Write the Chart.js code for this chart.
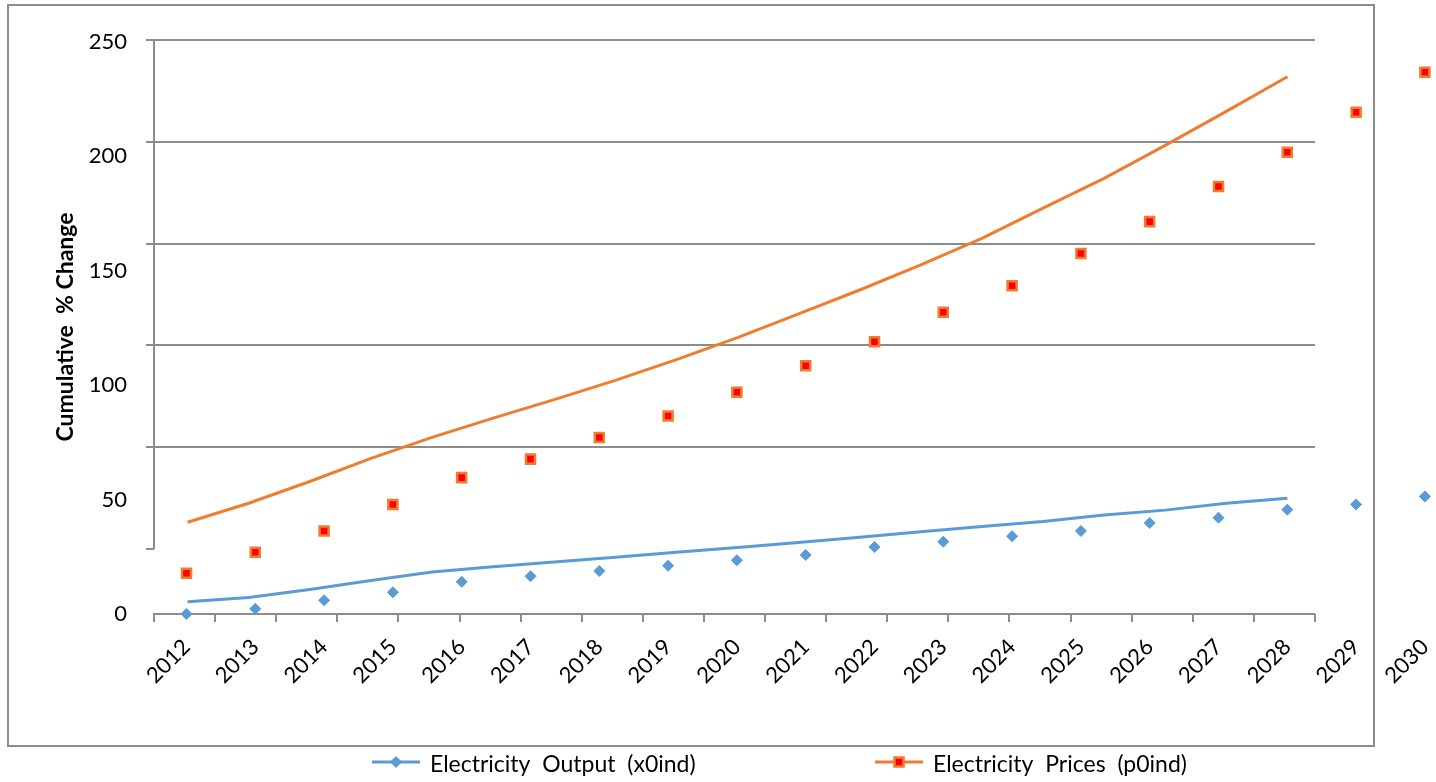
<!DOCTYPE html>
<html>
<head>
<meta charset="utf-8">
<title>Electricity output and prices</title>
<script src="https://cdn.jsdelivr.net/npm/chart.js@4.4.1/dist/chart.umd.min.js"></script>
<style>
  html, body { margin: 0; padding: 0; background: #fff; overflow: hidden; }
  #wrap { position: relative; width: 1436px; height: 782px; }
</style>
</head>
<body>
<div id="wrap"><canvas id="chart"></canvas></div>
<script>
const years = ['2012', '2013', '2014', '2015', '2016', '2017', '2018', '2019', '2020', '2021',
               '2022', '2023', '2024', '2025', '2026', '2027', '2028', '2029', '2030'];
const yLabels = [0, 50, 100, 150, 200, 250];

// yearly markers
const outputValues = [0.0, 2.3, 6.0, 9.5, 14.1, 16.5, 18.8, 21.1, 23.5, 25.8,
                      29.3, 31.6, 34.0, 36.3, 39.8, 42.1, 45.6, 47.9, 51.4];
const pricesValues = [17.8, 27.0, 36.3, 47.9, 59.6, 67.7, 77.1, 86.5, 96.9, 108.5,
                      119.0, 131.9, 143.5, 157.6, 171.5, 186.8, 201.8, 219.3, 236.8];

// trend lines
const outputTrend = [5.4, 7.2, 10.7, 14.6, 18.4, 20.6, 22.7, 24.8, 27.0, 29.1,
                     31.3, 33.5, 35.9, 38.2, 40.4, 43.3, 45.4, 48.4, 50.6];
const pricesTrend = [40.1, 48.4, 57.9, 68.0, 77.2, 85.6, 93.7, 102.1, 111.2, 120.8,
                     131.2, 141.6, 152.6, 164.2, 177.4, 190.4, 204.8, 219.7, 234.8];

const legendLabels = ['Electricity  Output  (x0ind)', 'Electricity  Prices  (p0ind)'];

const BLUE = '#5B9BD5';
const ORANGE = '#ED7D31';
const RED = '#FF0000';
const GRID = '#8c8c8c';
const FONT = 'Lato, "Open Sans", sans-serif';

// pixel width of one year slot for the lines and for the markers
const LINE_SLOT = 61.1;
const MARK_SLOT = 68.8;

const xy = arr => arr.map((v, i) => ({ x: i, y: v }));

// fixed axis box sizes, no extra label overflow padding
const fitBox = size => axis => {
  if (axis.isHorizontal()) axis.height = size; else axis.width = size;
  axis.paddingLeft = 0; axis.paddingRight = 0; axis.paddingTop = 0; axis.paddingBottom = 0;
};

const framePlugin = {
  id: 'frame',
  // once the plot width is final, give both year axes their fixed slot width
  afterLayout(chart) {
    const { xl, xm } = chart.scales;
    [[xl, LINE_SLOT], [xm, MARK_SLOT]].forEach(([scale, slot]) => {
      scale.max = scale.min + scale.width / slot;
      scale.configure();
    });
  },
  beforeDraw(chart) {
    const { ctx } = chart;
    ctx.save();
    ctx.strokeStyle = GRID;
    ctx.lineWidth = 2;
    ctx.strokeRect(8, 5, 1366, 741);
    ctx.restore();
  },
  beforeDatasetsDraw(chart) {
    const { ctx, chartArea, scales: { xl, yg } } = chart;
    const right = Math.round(xl.getPixelForValue(xl.ticks[xl.ticks.length - 1].value));
    const left = Math.round(chartArea.left);
    ctx.save();
    ctx.strokeStyle = GRID;
    ctx.lineWidth = 2;
    ctx.beginPath();
    yg.ticks.forEach(t => {
      if (t.value <= 0) return;
      const y = Math.round(yg.getPixelForValue(t.value));
      ctx.moveTo(left, y);
      ctx.lineTo(right, y);
    });
    // value axis stops at the lowest tick mark
    ctx.moveTo(left, Math.round(yg.getPixelForValue(yg.max)));
    ctx.lineTo(left, Math.round(yg.getPixelForValue(0)));
    // category axis
    const bottom = Math.round(chartArea.bottom);
    ctx.moveTo(left - 1, bottom);
    ctx.lineTo(right, bottom);
    ctx.stroke();
    ctx.restore();
  },
  afterDraw(chart) {
    const { ctx } = chart;
    const sets = chart.data.datasets;
    const slots = [372, 875];
    const y = 762;
    ctx.save();
    [0, 1].forEach(i => {
      const marker = sets[i];
      const line = sets[i + 2];
      const x0 = slots[i];
      ctx.strokeStyle = line.borderColor;
      ctx.lineWidth = 3;
      ctx.beginPath();
      ctx.moveTo(x0, y);
      ctx.lineTo(x0 + 48, y);
      ctx.stroke();
      ctx.fillStyle = marker.pointBackgroundColor;
      ctx.strokeStyle = marker.pointBorderColor;
      ctx.lineWidth = marker.pointBorderWidth;
      Chart.helpers.drawPoint(ctx, {
        pointStyle: marker.pointStyle,
        radius: marker.pointRadius,
        borderWidth: marker.pointBorderWidth,
        rotation: 0
      }, x0 + 24, y);
      ctx.fillStyle = '#000';
      ctx.font = '23px ' + FONT;
      ctx.textBaseline = 'middle';
      ctx.textAlign = 'left';
      ctx.fillText(marker.label, x0 + 58, y + 3);
    });
    ctx.restore();
  }
};

new Chart(document.getElementById('chart'), {
  type: 'line',
  data: {
    datasets: [
      {
        label: legendLabels[0],
        data: xy(outputValues),
        xAxisID: 'xm', yAxisID: 'y',
        showLine: false,
        pointStyle: 'rectRot',
        pointRadius: 5.5,
        pointBorderWidth: 1,
        pointBackgroundColor: BLUE,
        pointBorderColor: BLUE,
        clip: false
      },
      {
        label: legendLabels[1],
        data: xy(pricesValues),
        xAxisID: 'xm', yAxisID: 'y',
        showLine: false,
        pointStyle: 'rect',
        pointRadius: 6.4,
        pointBorderWidth: 2.5,
        pointBackgroundColor: RED,
        pointBorderColor: ORANGE,
        clip: false
      },
      {
        label: 'output trend',
        data: xy(outputTrend),
        xAxisID: 'xl', yAxisID: 'y',
        borderColor: BLUE,
        borderWidth: 3,
        pointRadius: 0,
        tension: 0
      },
      {
        label: 'prices trend',
        data: xy(pricesTrend),
        xAxisID: 'xl', yAxisID: 'y',
        borderColor: ORANGE,
        borderWidth: 3,
        pointRadius: 0,
        tension: 0
      }
    ]
  },
  options: {
    responsive: true,
    maintainAspectRatio: false,
    animation: false,
    events: [],
    layout: { padding: { left: 0, right: 0, top: 40, bottom: 58 } },
    plugins: {
      legend: { display: false },
      tooltip: { enabled: false }
    },
    scales: {
      // tick marks of the trend lines' year slots
      xl: {
        type: 'linear',
        position: 'bottom',
        weight: 0,
        min: -0.55,
        max: 20.4,
        afterBuildTicks: axis => { axis.ticks = years.concat(['']).map((_, i) => ({ value: i - 0.55 })); },
        afterFit: fitBox(10),
        ticks: { display: false },
        border: { display: false },
        grid: { drawOnChartArea: false, drawTicks: true, tickLength: 8, color: GRID, lineWidth: 2 }
      },
      // year labels under the markers
      xm: {
        type: 'linear',
        position: 'bottom',
        weight: 1,
        min: -0.4724,
        max: 18.1,
        afterBuildTicks: axis => { axis.ticks = years.map((_, i) => ({ value: i })); },
        afterFit: fitBox(100),
        border: { display: false },
        grid: { display: false, drawTicks: false },
        ticks: {
          autoSkip: false,
          minRotation: 45,
          maxRotation: 45,
          padding: 10,
          color: '#000',
          font: { family: FONT, size: 22 },
          callback: v => years[v]
        }
      },
      // horizontal grid positions
      yg: {
        type: 'linear',
        position: 'left',
        weight: 0,
        min: -0.6385,
        max: 5,
        afterBuildTicks: axis => { axis.ticks = axis.ticks.filter(t => Number.isInteger(t.value)); },
        afterFit: fitBox(10),
        ticks: { display: false, stepSize: 1 },
        border: { display: false },
        grid: {
          drawOnChartArea: false, drawTicks: true, tickLength: 8,
          color: GRID, tickColor: GRID, lineWidth: 2
        }
      },
      y: {
        type: 'linear',
        position: 'left',
        weight: 1,
        min: 0,
        max: 250.87,
        afterBuildTicks: axis => { axis.ticks = yLabels.map(v => ({ value: v })); },
        afterFit: fitBox(144),
        border: { display: false },
        grid: { display: false, drawTicks: false },
        ticks: {
          padding: 17,
          color: '#000',
          font: { family: FONT, size: 22 }
        },
        title: {
          display: true,
          text: 'Cumulative  % Change',
          color: '#000',
          font: { family: FONT, size: 23, weight: 'bold' },
          padding: { top: 52, bottom: 0 }
        }
      }
    }
  },
  plugins: [framePlugin]
});
</script>
</body>
</html>
